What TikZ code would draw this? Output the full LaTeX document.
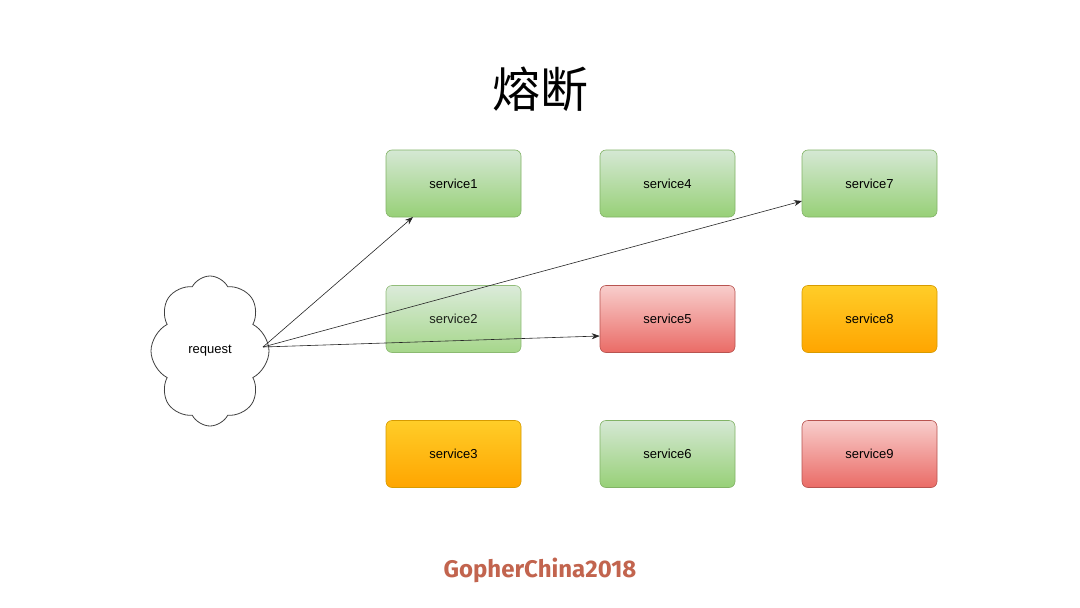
\documentclass[tikz,border=0pt]{standalone}
\usepackage{fontspec}
\setmainfont{Liberation Sans}
\newfontfamily\cjk{Noto Sans CJK SC}
\newfontfamily\brand{Fira Sans}
\usetikzlibrary{shapes.symbols,arrows.meta}
\definecolor{gtop}{HTML}{D5E8D4}\definecolor{gbot}{HTML}{97D077}\definecolor{gline}{HTML}{82B366}
\definecolor{rtop}{HTML}{F8CECC}\definecolor{rbot}{HTML}{EA6B66}\definecolor{rline}{HTML}{B85450}
\definecolor{otop}{HTML}{FFCD28}\definecolor{obot}{HTML}{FFA500}\definecolor{oline}{HTML}{D79B00}
\definecolor{brandc}{HTML}{C2644E}
\tikzset{
  svc/.style={rounded corners=6pt, minimum width=135pt, minimum height=67pt, inner sep=0pt, font=\fontsize{13}{15}\selectfont, line width=0.6pt},
  green/.style={svc, draw=gline, top color=gtop, bottom color=gbot},
  red/.style={svc, draw=rline, top color=rtop, bottom color=rbot},
  orange/.style={svc, draw=oline, top color=otop, bottom color=obot},
  conn/.style={-{Stealth[length=8pt,width=6pt]}, line width=0.6pt, black!85},
}
\begin{document}
\begin{tikzpicture}[x=1pt,y=-1pt]
\useasboundingbox (0,0) rectangle (1080,608);
\fill[white] (0,0) rectangle (1080,608);
\node[font=\cjk\fontsize{48}{54}\selectfont] (title) at (540,89) {熔断};
\node[green] (s1) at (453.5,183.5) {service1};
\node[green] (s4) at (667.5,183.5) {service4};
\node[green] (s7) at (869.5,183.5) {service7};
\node[green, opacity=0.85] (s2) at (453.5,319) {service2};
\node[red] (s5) at (667.5,319) {service5};
\node[orange] (s8) at (869.5,319) {service8};
\node[orange] (s3) at (453.5,454) {service3};
\node[green] (s6) at (667.5,454) {service6};
\node[red] (s9) at (869.5,454) {service9};
\node[cloud, cloud puffs=8, cloud puff arc=125, cloud ignores aspect, draw=black!75, line width=0.8pt, minimum width=118pt, minimum height=150pt, font=\fontsize{13}{15}\selectfont] (req) at (210,351) {request};
\coordinate (src) at (263,347);
\draw[conn] (src) -- (413,217);
\draw[conn] (src) -- (802,201);
\draw[conn] (src) -- (s5.west |- 0,336);
\node[font=\brand\bfseries\fontsize{24}{28}\selectfont, text=brandc] (brand) at (540,570) {GopherChina2018};
\end{tikzpicture}
\end{document}
